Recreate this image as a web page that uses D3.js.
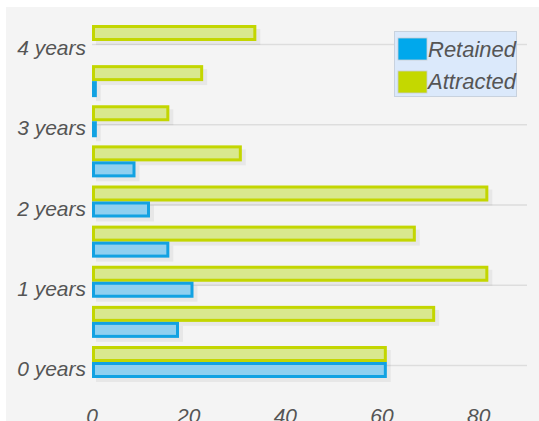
<!DOCTYPE html>
<html>
<head>
<meta charset="utf-8">
<script src="https://cdn.jsdelivr.net/npm/d3@7"></script>
<style>
    body { margin: 0; background: #fff; }
    text { font-family: "Liberation Sans", Arial, sans-serif; font-style: italic; fill: #555; }
</style>
</head>
<body>
<div id="chart"></div>
<script>
    // chart values
    const years = [0, 0.5, 1, 1.5, 2, 2.5, 3, 3.5, 4];
    const retained = [61, 18, 21, 16, 12, 9, 1, 1, 0];
    const attracted = [61, 71, 82, 67, 82, 31, 16, 23, 34];
    const yearTicks = [0, 1, 2, 3, 4];
    const xTicks = [0, 20, 40, 60, 80];
    const seriesNames = ["Retained", "Attracted"];

    const W = 539, H = 421;
    const barH = 16;

    let svg = d3.select("#chart")
        .append("svg")
        .attr("width", W)
        .attr("height", H);

    // panel background
    svg.append("rect")
        .attr("x", 6)
        .attr("y", 7)
        .attr("width", W - 6)
        .attr("height", H - 7)
        .style("fill", "#f4f4f4");

    let x = d3.scaleLinear()
        .domain([0, 90])
        .range([92, 527]);

    // top edge of the bar pair for each year
    let y = d3.scaleLinear()
        .domain([0, 4])
        .range([346, 25]);

    // grid lines at whole years
    svg.selectAll(".grid")
        .data(yearTicks)
        .join("line")
        .attr("class", "grid")
        .attr("x1", x(0))
        .attr("x2", x(90))
        .attr("y1", d => y(d) + 19.5)
        .attr("y2", d => y(d) + 19.5)
        .style("stroke", "#dddddd")
        .style("stroke-width", 1.5);

    // y labels
    svg.selectAll(".ylab")
        .data(yearTicks)
        .join("text")
        .attr("class", "ylab")
        .attr("x", 86)
        .attr("y", d => y(d) + 30)
        .attr("text-anchor", "end")
        .style("font-size", "21px")
        .text(d => d + " years");

    // x tick labels
    svg.selectAll(".xlab")
        .data(xTicks)
        .join("text")
        .attr("class", "xlab")
        .attr("x", d => x(d))
        .attr("y", 423)
        .attr("text-anchor", "middle")
        .style("font-size", "21px")
        .text(d => d);

    function drawBars(values, offset, stroke, fill, cls){
        let rows = years.map((d, i) => ({year: d, value: values[i]})).filter(d => d.value > 0);

        // soft shadow
        svg.selectAll(".shadow" + cls)
            .data(rows)
            .join("rect")
            .attr("class", "shadow" + cls)
            .attr("x", x(0) + 4)
            .attr("y", d => y(d.year) + offset + 4)
            .attr("width", d => x(d.value) - x(0))
            .attr("height", barH)
            .style("fill", "rgba(0,0,0,0.05)");

        svg.selectAll(".bar" + cls)
            .data(rows)
            .join("rect")
            .attr("class", "bar" + cls)
            .attr("x", x(0) + 1.5)
            .attr("y", d => y(d.year) + offset + 1.5)
            .attr("width", d => Math.max(0, x(d.value) - x(0) - 3))
            .attr("height", barH - 3)
            .style("fill", fill)
            .style("stroke", stroke)
            .style("stroke-width", 3);
    }

    drawBars(attracted, 0, "#c3d600", "#d9e88e", "Attracted");
    drawBars(retained, barH, "#12a2e2", "#8fd0f0", "Retained");

    // legend
    svg.append("rect")
        .attr("x", 394.5)
        .attr("y", 31.5)
        .attr("width", 122)
        .attr("height", 65)
        .style("fill", "#dbe9fb")
        .style("stroke", "#c8d2de");

    const legendColors = ["#00a8ec", "#c4d800"];
    svg.selectAll(".legendSquare")
        .data(seriesNames)
        .join("rect")
        .attr("class", "legendSquare")
        .attr("x", 398)
        .attr("y", (d, i) => 38 + i * 33)
        .attr("width", 29)
        .attr("height", 22)
        .style("fill", (d, i) => legendColors[i])
        .style("stroke", "#c8ccd2")
        .style("stroke-width", 0.8);

    svg.selectAll(".legend")
        .data(seriesNames)
        .join("text")
        .attr("class", "legend")
        .attr("x", 428)
        .attr("y", (d, i) => 57 + i * 32)
        .style("font-size", "22px")
        .text(d => d);
</script>
</body>
</html>
